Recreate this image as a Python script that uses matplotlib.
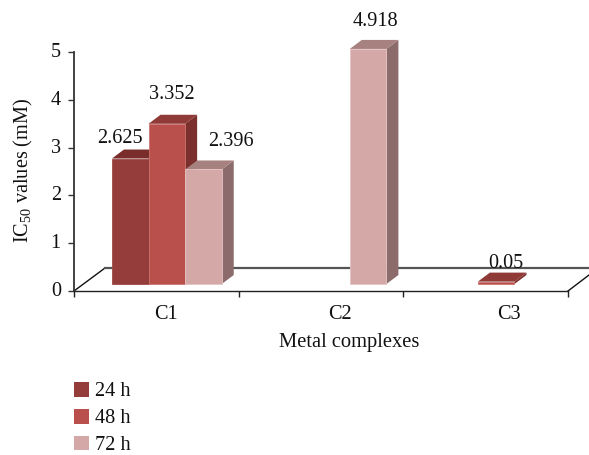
import numpy as np
import matplotlib
matplotlib.use("Agg")
import matplotlib.pyplot as plt
from matplotlib.patches import Patch, Polygon
from matplotlib.transforms import ScaledTranslation

plt.rcParams['font.family'] = ['Liberation Serif', 'DejaVu Serif']
plt.rcParams['mathtext.default'] = 'regular'

# Values, 0 means no bar
categories = ["C1", "C2", "C3"]
series_names = ["24 h", "48 h", "72 h"]
values_24h = [2.625, 0, 0]
values_48h = [3.352, 0, 0.05]
values_72h = [2.396, 4.918, 0]
labels_24h = ["2.625", "", ""]
labels_48h = ["3.352", "", "0.05"]
labels_72h = ["2.396", "4.918", ""]

# front, side, top and edge colours for each series
front_colors = ["#953d3b", "#b9504c", "#d5a8a8"]
side_colors = ["#7a2e2c", "#7c302e", "#8b6b6b"]
top_colors = ["#7a2e2c", "#8f3a37", "#a78080"]
edge_colors = ["#a04a48", "#cc7470", "#e6c4c4"]

W, H = 589, 455
L, R, T, B = 74, 568, 52, 291
px_x = 3 / (R - L)
px_y = 5 / (B - T)

fig = plt.figure(figsize=(W / 100, H / 100), dpi=100)
ax = fig.add_axes([L / W, 1 - B / H, (R - L) / W, (B - T) / H])
ax.set_xlim(-0.5, 2.5)
ax.set_ylim(0, 5)

# Floor of the fake 3d box
floor_dx, floor_dy = 31 * px_x, 23 * px_y
ax.plot([-0.5, -0.5 + floor_dx], [0, floor_dy], color="#111111", lw=1, clip_on=False, zorder=1)
ax.plot([2.5, 2.5 + 21 * px_x], [0, 16 * px_y], color="#111111", lw=1, clip_on=False, zorder=1)
ax.plot([-0.5 + floor_dx, 2.5 + 21 * px_x], [floor_dy, floor_dy], color="#555555", lw=1.6, clip_on=False, zorder=1)

# Bars sit a bit behind the front edge of the floor and right of the category centre
lift = 7 * px_y
shift = 10.5 * px_x
depth_x, depth_y = 12 * px_x, 9 * px_y
bar_w = 36.6 * px_x
x = np.arange(len(categories))

all_values = [values_24h, values_48h, values_72h]
all_labels = [labels_24h, labels_48h, labels_72h]
# label offset from the bar's top centre in pixels
label_offsets = [[(-10, 20), None, None],
                 [(5, 29), None, (10, 18)],
                 [(28, 28), (7, 27), None]]

z = 2
for s, vals in enumerate(all_values):
    left = x + shift + (s - 1) * bar_w - bar_w / 2
    for i, v in enumerate(vals):
        if v == 0:
            continue
        x0, x1 = left[i], left[i] + bar_w
        y0, y1 = lift, lift + v
        top = [(x0, y1), (x1, y1), (x1 + depth_x, y1 + depth_y), (x0 + depth_x, y1 + depth_y)]
        side = [(x1, y0), (x1, y1), (x1 + depth_x, y1 + depth_y), (x1 + depth_x, y0 + depth_y)]
        ax.add_patch(Polygon(side, closed=True, fc=side_colors[s], ec="none", clip_on=False, zorder=z))
        ax.add_patch(Polygon(top, closed=True, fc=top_colors[s], ec="none", clip_on=False, zorder=z))
        ax.bar(x0, v, width=bar_w, bottom=lift, align="edge", color=front_colors[s],
               edgecolor=edge_colors[s], linewidth=0.6, clip_on=False, zorder=z + 0.5)
        off = label_offsets[s][i]
        ax.annotate(all_labels[s][i], xy=((x0 + x1) / 2, y1), xytext=(off[0] * 0.72, off[1] * 0.72),
                    textcoords="offset points", ha="center", va="center", fontsize=14.6,
                    color="#111111", zorder=10, annotation_clip=False)
        z += 1

# Axes
for name in ["top", "right"]:
    ax.spines[name].set_visible(False)
ax.spines["left"].set_color("#333333")
ax.spines["left"].set_linewidth(1.3)
ax.spines["bottom"].set_color("#222222")
ax.spines["bottom"].set_linewidth(1.0)

ax.set_yticks(range(6))
ax.tick_params(axis="y", length=4.5, width=1, color="#333333", labelsize=14.6, pad=5, labelcolor="#111111")
# tick labels sit slightly above their ticks in the reference
for lab in ax.get_yticklabels():
    lab.set_transform(lab.get_transform() + ScaledTranslation(0, 2 / 100, fig.dpi_scale_trans))

ax.set_xticks([-0.5, 0.5, 1.5, 2.5])
ax.set_xticklabels([])
ax.tick_params(axis="x", which="major", length=4, width=1, color="#222222")
# category labels drift right of the centres
ax.set_xticks(x + np.array([10, 19, 23]) * px_x, minor=True)
ax.set_xticklabels(categories, minor=True, fontsize=14.6, color="#111111")
ax.tick_params(axis="x", which="minor", length=0, pad=10)

fig.text(349 / W, 1 - 343 / H, "Metal complexes", ha="center", va="center", fontsize=14.8, color="#111111")
fig.text(23 / W, 1 - 170 / H, "IC$_{50}$ values (mM)", rotation=90, ha="center", va="center", fontsize=14.6, color="#111111")

handles = [Patch(fc=c, ec="none", label=n) for c, n in zip(front_colors, series_names)]
fig.legend(handles=handles, loc="lower left", bbox_to_anchor=(74 / W, 0), bbox_transform=fig.transFigure,
           frameon=False, fontsize=14.6, handlelength=0.75, handleheight=0.75, handletextpad=0.3,
           labelspacing=0.36, borderpad=0, borderaxespad=0, labelcolor="#111111")

fig.savefig("out.png", dpi=100)
